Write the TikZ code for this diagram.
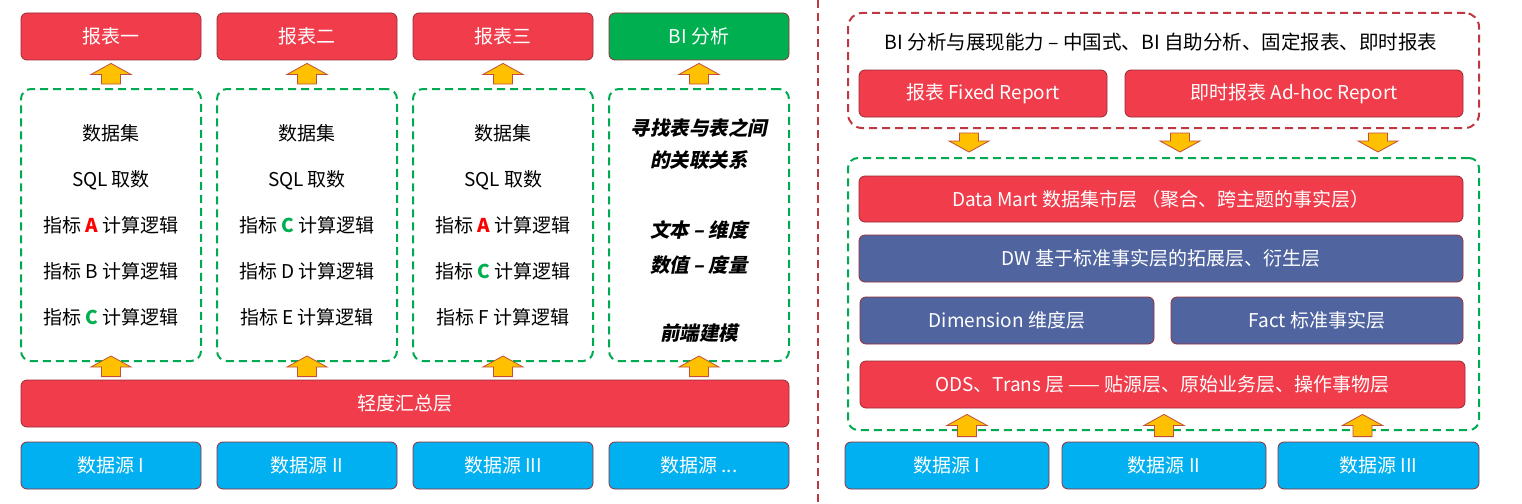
\documentclass[tikz,border=0pt]{standalone}
\usepackage{fontspec}
\setmainfont{Noto Sans CJK SC}
\newfontfamily\slantfont[FakeSlant=0.2]{Noto Sans CJK SC}
\usetikzlibrary{calc}

\definecolor{boxred}{RGB}{240,60,75}
\definecolor{boxblue}{RGB}{80,101,160}
\definecolor{boxcyan}{RGB}{0,176,240}
\definecolor{boxgreen}{RGB}{0,176,80}
\definecolor{boxline}{RGB}{150,45,55}
\definecolor{dashgreen}{RGB}{0,170,80}
\definecolor{dashred}{RGB}{190,55,65}
\definecolor{arrowfill}{RGB}{255,192,0}
\definecolor{arrowline}{RGB}{192,80,60}
\definecolor{keyred}{RGB}{255,0,0}
\definecolor{keygreen}{RGB}{0,176,80}

\tikzset{
  box/.style={draw=boxline, line width=0.8pt, rounded corners=6pt, minimum width=180pt,
    minimum height=47pt, inner sep=0pt, text=white, font=\fontsize{19}{21}\selectfont},
  redbox/.style={box, fill=boxred},
  bluebox/.style={box, fill=boxblue},
  srcbox/.style={box, fill=boxcyan},
  bibox/.style={box, fill=boxgreen},
  grnframe/.style={draw=dashgreen, line width=2pt, dash pattern=on 8pt off 5pt,
    rounded corners=10pt, inner sep=0pt},
  redframe/.style={draw=dashred, line width=2pt, dash pattern=on 8pt off 5pt,
    rounded corners=14pt, inner sep=0pt},
  arrowshape/.style={draw=arrowline, fill=arrowfill, line width=0.8pt},
  steps/.style={align=center, font=\fontsize{19}{46}\selectfont},
  slanttext/.style={font=\slantfont\bfseries\fontsize{19.5}{21}\selectfont}
}

% fat arrow from #1 (base) to #2 (tip), vertical only
\newcommand{\fatarrow}[2]{%
  \draw[arrowshape] let \p1=#1, \p2=#2, \n1={ifthenelse(\y2>\y1,1,-1)} in
    ({\x1-9.5pt},\y1) -- ({\x1-9.5pt},{\y2-\n1*11pt}) -- ({\x1-20pt},{\y2-\n1*11pt}) -- (\x1,\y2)
    -- ({\x1+20pt},{\y2-\n1*11pt}) -- ({\x1+9.5pt},{\y2-\n1*11pt}) -- ({\x1+9.5pt},\y1) -- cycle;}

\begin{document}
\begin{tikzpicture}[x=1pt,y=-1pt]
\useasboundingbox (0,0) rectangle (1522,503);

% left: reports
\node[redbox] (r1) at (111,36.5) {报表一};
\node[redbox] (r2) at (307,36.5) {报表二};
\node[redbox] (r3) at (503,36.5) {报表三};
\node[bibox]  (r4) at (699,36.5) {BI 分析};

% left: data sets
\node[grnframe, minimum width=180pt, minimum height=272pt] (c1) at (111,225) {};
\node[grnframe, minimum width=180pt, minimum height=272pt] (c2) at (307,225) {};
\node[grnframe, minimum width=180pt, minimum height=272pt] (c3) at (503,225) {};
\node[grnframe, minimum width=180pt, minimum height=272pt] (c4) at (699,225) {};

\node[steps] at (c1) {数据集\\SQL 取数\\指标 \textbf{\color{keyred}A} 计算逻辑\\指标 B 计算逻辑\\指标 \textbf{\color{keygreen}C} 计算逻辑};
\node[steps] at (c2) {数据集\\SQL 取数\\指标 \textbf{\color{keygreen}C} 计算逻辑\\指标 D 计算逻辑\\指标 E 计算逻辑};
\node[steps] at (c3) {数据集\\SQL 取数\\指标 \textbf{\color{keyred}A} 计算逻辑\\指标 \textbf{\color{keygreen}C} 计算逻辑\\指标 F 计算逻辑};

\node[slanttext] (m1) at (699,128) {寻找表与表之间};
\node[slanttext] (m2) at (699,160) {的关联关系};
\node[slanttext] (m3) at (699,230) {文本 – 维度};
\node[slanttext] (m4) at (699,265) {数值 – 度量};
\node[slanttext] (m5) at (699,333) {前端建模};

% left: summary and sources
\node[redbox, minimum width=768pt] (sum) at (405,403.5) {轻度汇总层};
\node[srcbox] (s1) at (111,465.5) {数据源 I};
\node[srcbox] (s2) at (307,465.5) {数据源 II};
\node[srcbox] (s3) at (503,465.5) {数据源 III};
\node[srcbox] (s4) at (699,465.5) {数据源 ...};

\fatarrow{($(c1.north)+(0,-4)$)}{($(r1.south)+(0,3)$)}
\fatarrow{($(c2.north)+(0,-4)$)}{($(r2.south)+(0,3)$)}
\fatarrow{($(c3.north)+(0,-4)$)}{($(r3.south)+(0,3)$)}
\fatarrow{($(c4.north)+(0,-4)$)}{($(r4.south)+(0,3)$)}
\fatarrow{($(c1.south |- sum.north)+(0,-3)$)}{($(c1.south)+(0,-6)$)}
\fatarrow{($(c2.south |- sum.north)+(0,-3)$)}{($(c2.south)+(0,-6)$)}
\fatarrow{($(c3.south |- sum.north)+(0,-3)$)}{($(c3.south)+(0,-6)$)}
\fatarrow{($(c4.south |- sum.north)+(0,-3)$)}{($(c4.south)+(0,-6)$)}

% separator
\draw[dashred, line width=2pt, dash pattern=on 8pt off 5pt] (818,0) -- (818,503);

% right: BI layer
\node[redframe, minimum width=631pt, minimum height=115pt] (bi) at (1163.5,70.5) {};
\node[font=\fontsize{19.5}{21}\selectfont] (bititle) at (1161,42)
  {BI 分析与展现能力 – 中国式、BI 自助分析、固定报表、即时报表};
\node[redbox, minimum width=248pt] (fixed) at (983,93.5) {报表 Fixed Report};
\node[redbox, minimum width=338pt] (adhoc) at (1294,93.5) {即时报表 Ad-hoc Report};

% right: warehouse layers
\node[grnframe, minimum width=631pt, minimum height=272pt] (dw) at (1163.5,294) {};
\node[redbox, minimum width=604pt, minimum height=46pt] (mart) at (1161,199)
  {Data Mart 数据集市层 （聚合、跨主题的事实层）};
\node[bluebox, minimum width=604pt] (ext) at (1161,258.5) {DW 基于标准事实层的拓展层、衍生层};
\node[bluebox, minimum width=294pt] (dim) at (1007,320.5) {Dimension 维度层};
\node[bluebox, minimum width=292pt] (fact) at (1317,320.5) {Fact 标准事实层};
\node[redbox, minimum width=605pt] (ods) at (1162.5,384.5) {ODS、Trans 层 —— 贴源层、原始业务层、操作事物层};

\node[srcbox, minimum width=204pt] (rs1) at (947,465.5) {数据源 I};
\node[srcbox, minimum width=204pt] (rs2) at (1164,465.5) {数据源 II};
\node[srcbox, minimum width=201pt] (rs3) at (1378.5,465.5) {数据源 III};

\fatarrow{($(bi.south)+(-194.5,4)$)}{($(dw.north)+(0,-5)$)}
\fatarrow{($(bi.south)+(16.5,4)$)}{($(dw.north)+(0,-5)$)}
\fatarrow{($(bi.south)+(214.5,4)$)}{($(dw.north)+(0,-5)$)}
\fatarrow{($(rs1.north)+(20,-5)$)}{($(ods.south)+(0,6)$)}
\fatarrow{($(rs2.north)+(0,-5)$)}{($(ods.south)+(0,6)$)}
\fatarrow{($(rs3.north)+(-16,-5)$)}{($(ods.south)+(0,6)$)}
\end{tikzpicture}
\end{document}
